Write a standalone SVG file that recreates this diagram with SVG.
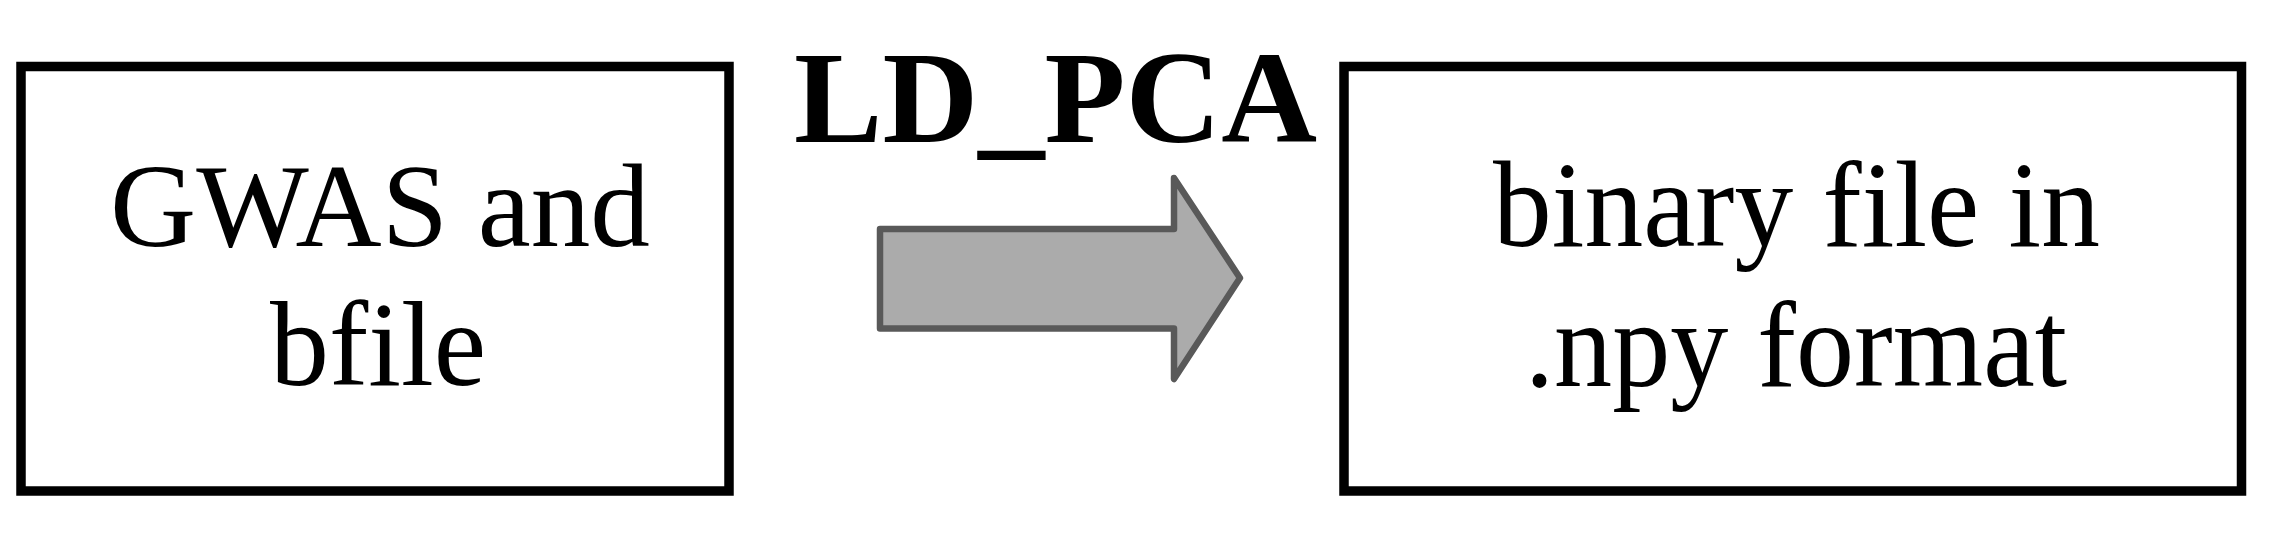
<svg xmlns="http://www.w3.org/2000/svg" width="2281" height="547" viewBox="0 0 2281 547">
<style>
.box{fill:#fff;stroke:#000;stroke-width:9.5}
.t{font-family:"Liberation Serif","Times New Roman",serif;fill:#000}
.arrow{fill:#ababab;stroke:#595959;stroke-width:6.5;stroke-linejoin:round}
</style>
<rect width="2281" height="547" fill="#fff"/>
<g id="node-gwas">
<rect class="box" x="21" y="66.5" width="708" height="424.5"/>
<text class="t" x="110" y="246" font-size="118" textLength="540" lengthAdjust="spacingAndGlyphs">GWAS and</text>
<text class="t" x="270" y="385" font-size="120" textLength="216" lengthAdjust="spacingAndGlyphs">bfile</text>
</g>
<g id="node-npy">
<rect class="box" x="1344" y="66.5" width="897.5" height="424.5"/>
<text class="t" x="1493" y="246" font-size="123" textLength="607" lengthAdjust="spacingAndGlyphs">binary file in</text>
<text class="t" x="1525" y="386" font-size="123" textLength="542" lengthAdjust="spacingAndGlyphs">.npy format</text>
</g>
<g id="connectors">
<polygon class="arrow" points="880,229 1174,229 1174,178 1240,278 1174,379 1174,328.5 880,328.5"/>
<text class="t" x="794" y="142" font-size="132" font-weight="bold" textLength="523" lengthAdjust="spacingAndGlyphs">LD_PCA</text>
</g>
</svg>
